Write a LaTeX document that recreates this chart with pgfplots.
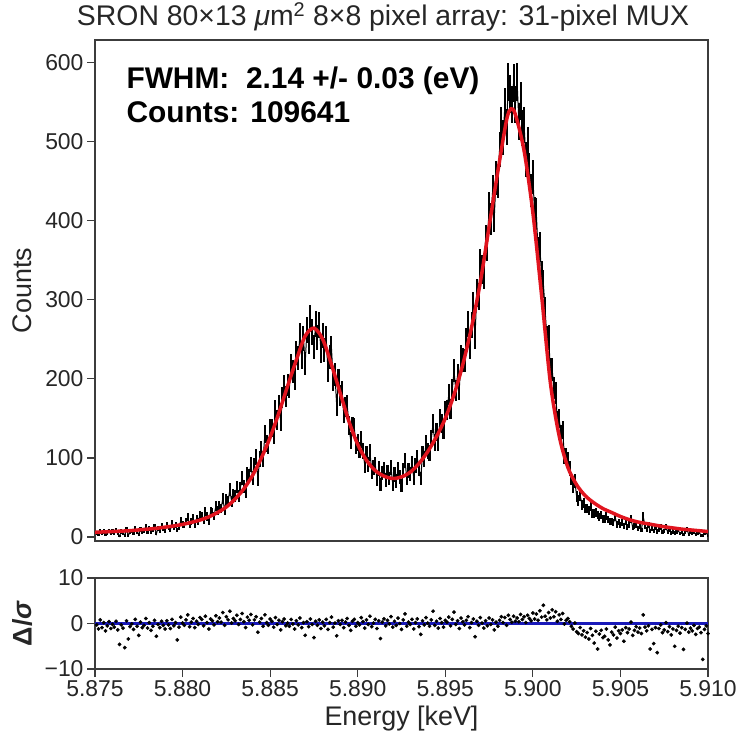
\documentclass[border=0pt]{standalone}
\usepackage{pgfplots}
\pgfplotsset{compat=1.18}
\usepackage{pgfplotstable}
\usepackage{fontspec}
\setmainfont{Liberation Sans}
\definecolor{fitred}{RGB}{225,20,30}
\definecolor{resblue}{RGB}{25,25,185}
\definecolor{axgray}{RGB}{60,60,60}

\pgfplotstableread{
x y e
5.8751 5 2.2
5.8752 3 1.7
5.8753 8 2.8
5.8754 4 2.0
5.8755 7 2.6
5.8756 3 1.7
5.8757 5 2.2
5.8758 8 2.8
5.8759 4 2.0
5.8760 7 2.6
5.8761 5 2.2
5.8762 9 3.0
5.8763 4 2.0
5.8764 1 1.0
5.8765 7 2.6
5.8766 5 2.2
5.8767 2 1.4
5.8768 10 3.2
5.8769 2 1.4
5.8770 6 2.4
5.8771 8 2.8
5.8772 5 2.2
5.8773 11 3.3
5.8774 7 2.6
5.8775 3 1.7
5.8776 10 3.2
5.8777 7 2.6
5.8778 8 2.8
5.8779 13 3.6
5.8780 7 2.6
5.8781 11 3.3
5.8782 6 2.4
5.8783 9 3.0
5.8784 13 3.6
5.8785 4 2.0
5.8786 11 3.3
5.8787 8 2.8
5.8788 14 3.7
5.8789 11 3.3
5.8790 8 2.8
5.8791 15 3.9
5.8792 12 3.5
5.8793 9 3.0
5.8794 17 4.1
5.8795 12 3.5
5.8796 15 3.9
5.8797 9 3.0
5.8798 12 3.5
5.8799 21 4.6
5.8800 16 4.0
5.8801 15 3.9
5.8802 20 4.5
5.8803 25 5.0
5.8804 15 3.9
5.8805 20 4.5
5.8806 24 4.9
5.8807 16 4.0
5.8808 23 4.8
5.8809 20 4.5
5.8810 28 5.3
5.8811 27 5.2
5.8812 21 4.6
5.8813 32 5.7
5.8814 26 5.1
5.8815 19 4.4
5.8816 32 5.7
5.8817 31 5.6
5.8818 27 5.2
5.8819 39 6.2
5.8820 33 5.7
5.8821 39 6.2
5.8822 36 6.0
5.8823 49 7.0
5.8824 34 5.8
5.8825 47 6.9
5.8826 45 6.7
5.8827 60 7.7
5.8828 45 6.7
5.8829 54 7.3
5.8830 52 7.2
5.8831 63 7.9
5.8832 52 7.2
5.8833 62 7.9
5.8834 75 8.7
5.8835 64 8.0
5.8836 57 7.5
5.8837 79 8.9
5.8838 77 8.8
5.8839 92 9.6
5.8840 75 8.7
5.8841 90 9.5
5.8842 101 10.0
5.8843 73 8.5
5.8844 99 9.9
5.8845 111 10.5
5.8846 99 9.9
5.8847 130 11.4
5.8848 118 10.9
5.8849 116 10.8
5.8850 137 11.7
5.8851 138 11.7
5.8852 129 11.4
5.8853 160 12.6
5.8854 148 12.2
5.8855 166 12.9
5.8856 146 12.1
5.8857 176 13.3
5.8858 191 13.8
5.8859 177 13.3
5.8860 192 13.9
5.8861 189 13.7
5.8862 217 14.7
5.8863 209 14.5
5.8864 200 14.1
5.8865 233 15.3
5.8866 226 15.0
5.8867 254 15.9
5.8868 228 15.1
5.8869 251 15.8
5.8870 219 14.8
5.8871 262 16.2
5.8872 247 15.7
5.8873 276 16.6
5.8874 259 16.1
5.8875 240 15.5
5.8876 269 16.4
5.8877 252 15.9
5.8878 268 16.4
5.8879 235 15.3
5.8880 255 16.0
5.8881 236 15.4
5.8882 251 15.8
5.8883 211 14.5
5.8884 227 15.1
5.8885 239 15.5
5.8886 199 14.1
5.8887 205 14.3
5.8888 166 12.9
5.8889 198 14.1
5.8890 179 13.4
5.8891 184 13.6
5.8892 156 12.5
5.8893 164 12.8
5.8894 167 12.9
5.8895 141 11.9
5.8896 122 11.0
5.8897 140 11.8
5.8898 139 11.8
5.8899 116 10.8
5.8900 119 10.9
5.8901 110 10.5
5.8902 123 11.1
5.8903 109 10.4
5.8904 91 9.5
5.8905 105 10.2
5.8906 92 9.6
5.8907 107 10.3
5.8908 83 9.1
5.8909 88 9.4
5.8910 92 9.6
5.8911 73 8.5
5.8912 87 9.3
5.8913 66 8.1
5.8914 81 9.0
5.8915 86 9.3
5.8916 72 8.5
5.8917 82 9.1
5.8918 74 8.6
5.8919 88 9.4
5.8920 67 8.2
5.8921 79 8.9
5.8922 71 8.4
5.8923 86 9.3
5.8924 76 8.7
5.8925 65 8.1
5.8926 84 9.2
5.8927 97 9.8
5.8928 74 8.6
5.8929 84 9.2
5.8930 80 8.9
5.8931 93 9.6
5.8932 75 8.7
5.8933 91 9.5
5.8934 100 10.0
5.8935 86 9.3
5.8936 74 8.6
5.8937 105 10.2
5.8938 99 9.9
5.8939 118 10.9
5.8940 109 10.4
5.8941 106 10.3
5.8942 124 11.1
5.8943 143 12.0
5.8944 119 10.9
5.8945 133 11.5
5.8946 120 11.0
5.8947 149 12.2
5.8948 143 12.0
5.8949 136 11.7
5.8950 159 12.6
5.8951 160 12.6
5.8952 180 13.4
5.8953 162 12.7
5.8954 186 13.6
5.8955 210 14.5
5.8956 185 13.6
5.8957 204 14.3
5.8958 187 13.7
5.8959 228 15.1
5.8960 224 15.0
5.8961 223 14.9
5.8962 248 15.7
5.8963 269 16.4
5.8964 241 15.5
5.8965 268 16.4
5.8966 293 17.1
5.8967 254 15.9
5.8968 308 17.5
5.8969 304 17.4
5.8970 345 18.6
5.8971 338 18.4
5.8972 331 18.2
5.8973 375 19.4
5.8974 368 19.2
5.8975 416 20.4
5.8976 402 20.0
5.8977 436 20.9
5.8978 405 20.1
5.8979 454 21.3
5.8980 449 21.2
5.8981 490 22.1
5.8982 521 22.8
5.8983 505 22.5
5.8984 544 23.3
5.8985 518 22.8
5.8986 575 24.0
5.8987 560 23.7
5.8988 547 23.4
5.8989 574 24.0
5.8990 546 23.4
5.8991 575 24.0
5.8992 525 22.9
5.8993 551 23.5
5.8994 517 22.7
5.8995 521 22.8
5.8996 477 21.8
5.8997 496 22.3
5.8998 464 21.5
5.8999 438 20.9
5.9000 455 21.3
5.9001 409 20.2
5.9002 408 20.2
5.9003 360 19.0
5.9004 366 19.1
5.9005 330 18.2
5.9006 320 17.9
5.9007 287 16.9
5.9008 251 15.8
5.9009 252 15.9
5.9010 212 14.6
5.9011 212 14.6
5.9012 188 13.7
5.9013 182 13.5
5.9014 147 12.1
5.9015 150 12.2
5.9016 130 11.4
5.9017 135 11.6
5.9018 103 10.1
5.9019 103 10.1
5.9020 98 9.9
5.9021 87 9.3
5.9022 74 8.6
5.9023 64 8.0
5.9024 71 8.4
5.9025 51 7.1
5.9026 46 6.8
5.9027 53 7.3
5.9028 41 6.4
5.9029 43 6.6
5.9030 36 6.0
5.9031 36 6.0
5.9032 33 5.7
5.9033 39 6.2
5.9034 30 5.5
5.9035 30 5.5
5.9036 31 5.6
5.9037 28 5.3
5.9038 25 5.0
5.9039 28 5.3
5.9040 23 4.8
5.9041 23 4.8
5.9042 27 5.2
5.9043 22 4.7
5.9044 20 4.5
5.9045 20 4.5
5.9046 18 4.2
5.9047 25 5.0
5.9048 16 4.0
5.9049 19 4.4
5.9050 15 3.9
5.9051 18 4.2
5.9052 14 3.7
5.9053 19 4.4
5.9054 13 3.6
5.9055 16 4.0
5.9056 23 4.8
5.9057 12 3.5
5.9058 14 3.7
5.9059 16 4.0
5.9060 11 3.3
5.9061 14 3.7
5.9062 9 3.0
5.9063 26 5.1
5.9064 14 3.7
5.9065 10 3.2
5.9066 15 3.9
5.9067 8 2.8
5.9068 11 3.3
5.9069 8 2.8
5.9070 12 3.5
5.9071 7 2.6
5.9072 10 3.2
5.9073 13 3.6
5.9074 6 2.4
5.9075 8 2.8
5.9076 13 3.6
5.9077 6 2.4
5.9078 10 3.2
5.9079 5 2.2
5.9080 7 2.6
5.9081 5 2.2
5.9082 6 2.4
5.9083 9 3.0
5.9084 4 2.0
5.9085 7 2.6
5.9086 3 1.7
5.9087 6 2.4
5.9088 10 3.2
5.9089 3 1.7
5.9090 6 2.4
5.9091 4 2.0
5.9092 7 2.6
5.9093 3 1.7
5.9094 5 2.2
5.9095 6 2.4
5.9096 2 1.4
5.9097 2 1.4
5.9098 4 2.0
5.9099 6 2.4
5.9100 1 1.0
}\datatable

\pgfplotstableread{
x f
5.8750 6
5.8755 6.5
5.8760 7
5.8765 7.5
5.8770 8
5.8775 9
5.8780 10
5.8785 11
5.8790 12.5
5.8795 14
5.8800 16
5.8805 18.5
5.8810 21.5
5.8815 25.5
5.8820 31
5.8825 38
5.8830 48
5.8835 61
5.8840 78
5.8845 100
5.8850 126
5.8855 157
5.8860 191
5.8865 224
5.8870 254
5.8875 264
5.8880 250
5.8885 218
5.8890 182
5.8895 146
5.8900 117
5.8905 97
5.8910 84
5.8915 77
5.8920 74
5.8925 76
5.8930 82
5.8935 93
5.8940 108
5.8945 127
5.8950 150
5.8955 180
5.8960 218
5.8965 265
5.8970 322
5.8975 392
5.8980 462
5.8985 527
5.89875 541
5.8990 534
5.8995 488
5.9000 410
5.9005 305
5.9010 195
5.9015 128
5.9020 88
5.9025 66
5.9030 52
5.9035 43
5.9040 36
5.9045 31
5.9050 26
5.9055 22
5.9060 19
5.9065 17
5.9070 15
5.9075 13
5.9080 11.5
5.9085 10
5.9090 9
5.9095 8
5.9100 7
}\fittable

\pgfplotstableread{
x r
5.8751 -0.3
5.8752 -1.2
5.8753 0.8
5.8754 -0.9
5.8755 0.2
5.8756 -1.6
5.8757 -0.5
5.8758 0.4
5.8759 -1.1
5.8760 -0.2
5.8761 -0.8
5.8762 0.5
5.8763 -1.4
5.8764 -4.6
5.8765 -0.3
5.8766 -1.0
5.8767 -5.3
5.8768 0.6
5.8769 -3.4
5.8770 -0.7
5.8771 -0.1
5.8772 -1.3
5.8773 0.9
5.8774 -0.6
5.8775 -2.6
5.8776 0.3
5.8777 -0.9
5.8778 -0.4
5.8779 1.1
5.8780 -1.0
5.8781 0.2
5.8782 -1.5
5.8783 -0.6
5.8784 0.7
5.8785 -2.8
5.8786 -0.2
5.8787 -0.9
5.8788 0.5
5.8789 -0.4
5.8790 -1.2
5.8791 0.6
5.8792 -0.3
5.8793 -1.1
5.8794 0.9
5.8795 -0.5
5.8796 0.2
5.8797 -3.6
5.8798 -0.8
5.8799 1.4
5.8800 0.1
5.8801 -0.4
5.8802 0.8
5.8803 1.9
5.8804 -0.7
5.8805 0.3
5.8806 1.1
5.8807 -0.9
5.8808 0.5
5.8809 -0.2
5.8810 1.3
5.8811 0.9
5.8812 -0.5
5.8813 1.6
5.8814 0.2
5.8815 -1.2
5.8816 1.0
5.8817 0.6
5.8818 -0.3
5.8819 1.7
5.8820 0.4
5.8821 1.2
5.8822 0.3
5.8823 2.4
5.8824 -0.4
5.8825 1.5
5.8826 0.8
5.8827 2.7
5.8828 0.1
5.8829 1.1
5.8830 0.6
5.8831 1.8
5.8832 -0.2
5.8833 0.9
5.8834 2.2
5.8835 0.4
5.8836 -0.9
5.8837 1.4
5.8838 0.7
5.8839 2.0
5.8840 -0.3
5.8841 0.8
5.8842 1.5
5.8843 -1.9
5.8844 0.3
5.8845 1.1
5.8846 -0.6
5.8847 1.9
5.8848 0.2
5.8849 -0.4
5.8850 1.0
5.8851 0.5
5.8852 -0.8
5.8853 1.3
5.8854 -0.2
5.8855 0.7
5.8856 -1.4
5.8857 0.4
5.8858 1.0
5.8859 -0.5
5.8860 0.1
5.8861 -0.6
5.8862 0.9
5.8863 -0.1
5.8864 -1.2
5.8865 0.6
5.8866 -0.3
5.8867 1.2
5.8868 -0.9
5.8869 0.2
5.8870 -2.6
5.8871 0.4
5.8872 -0.7
5.8873 1.0
5.8874 -0.2
5.8875 -3.1
5.8876 0.5
5.8877 -0.4
5.8878 0.8
5.8879 -1.1
5.8880 0.3
5.8881 -0.5
5.8882 0.9
5.8883 -1.3
5.8884 0.2
5.8885 1.4
5.8886 -0.8
5.8887 0.1
5.8888 -2.7
5.8889 0.6
5.8890 -0.2
5.8891 0.7
5.8892 -0.9
5.8893 0.3
5.8894 1.1
5.8895 -0.4
5.8896 -1.5
5.8897 0.5
5.8898 0.9
5.8899 -0.6
5.8900 0.2
5.8901 -0.3
5.8902 1.3
5.8903 0.4
5.8904 -1.0
5.8905 0.8
5.8906 -0.2
5.8907 1.6
5.8908 -0.7
5.8909 0.1
5.8910 0.9
5.8911 -1.1
5.8912 0.6
5.8913 -3.3
5.8914 0.3
5.8915 1.0
5.8916 -0.5
5.8917 0.7
5.8918 -0.1
5.8919 1.5
5.8920 -0.8
5.8921 0.5
5.8922 -0.4
5.8923 1.2
5.8924 0.0
5.8925 -1.3
5.8926 0.8
5.8927 2.1
5.8928 -0.6
5.8929 0.3
5.8930 -0.2
5.8931 0.9
5.8932 -1.2
5.8933 0.2
5.8934 1.0
5.8935 -0.7
5.8936 -2.4
5.8937 0.6
5.8938 -0.3
5.8939 1.3
5.8940 0.1
5.8941 -0.6
5.8942 0.8
5.8943 2.7
5.8944 -0.4
5.8945 0.5
5.8946 -1.0
5.8947 1.1
5.8948 0.2
5.8949 -0.8
5.8950 0.7
5.8951 0.3
5.8952 1.4
5.8953 -0.5
5.8954 0.9
5.8955 2.5
5.8956 -0.2
5.8957 0.6
5.8958 -1.1
5.8959 1.2
5.8960 0.4
5.8961 -0.3
5.8962 0.7
5.8963 1.5
5.8964 -0.9
5.8965 0.2
5.8966 1.0
5.8967 -2.9
5.8968 0.5
5.8969 -0.4
5.8970 1.3
5.8971 0.1
5.8972 -1.0
5.8973 0.6
5.8974 -0.5
5.8975 1.2
5.8976 -0.2
5.8977 0.8
5.8978 -1.4
5.8979 0.3
5.8980 -0.6
5.8981 0.7
5.8982 1.5
5.8983 0.2
5.8984 1.3
5.8985 -0.4
5.8986 1.8
5.8987 0.9
5.8988 0.3
5.8989 1.6
5.8990 0.5
5.8991 1.2
5.8992 0.4
5.8993 2.0
5.8994 0.9
5.8995 1.5
5.8996 0.2
5.8997 1.8
5.8998 1.1
5.8999 0.6
5.9000 2.3
5.9001 1.0
5.9002 2.1
5.9003 0.7
5.9004 2.8
5.9005 1.4
5.9006 4.0
5.9007 1.6
5.9008 0.8
5.9009 2.4
5.9010 1.2
5.9011 3.0
5.9012 1.5
5.9013 2.6
5.9014 0.5
5.9015 1.9
5.9016 0.9
5.9017 2.2
5.9018 -0.1
5.9019 0.7
5.9020 1.1
5.9021 0.4
5.9022 -0.6
5.9023 -1.2
5.9024 0.1
5.9025 -1.8
5.9026 -2.2
5.9027 -0.9
5.9028 -2.5
5.9029 -1.6
5.9030 -3.0
5.9031 -2.0
5.9032 -3.4
5.9033 -1.1
5.9034 -2.6
5.9035 -4.3
5.9036 -1.7
5.9037 -5.6
5.9038 -2.3
5.9039 -1.5
5.9040 -3.1
5.9041 -2.8
5.9042 -1.2
5.9043 -3.6
5.9044 -4.7
5.9045 -1.9
5.9046 -2.5
5.9047 -0.8
5.9048 -3.2
5.9049 -1.6
5.9050 -2.2
5.9051 -1.4
5.9052 -3.9
5.9053 -0.9
5.9054 -2.0
5.9055 -1.2
5.9056 0.3
5.9057 -2.6
5.9058 -1.5
5.9059 -0.7
5.9060 -1.9
5.9061 -1.0
5.9062 -2.2
5.9063 1.9
5.9064 -0.8
5.9065 -1.6
5.9066 -0.5
5.9067 -5.6
5.9068 -1.3
5.9069 -4.4
5.9070 -0.9
5.9071 -6.4
5.9072 -1.1
5.9073 -0.3
5.9074 -2.0
5.9075 -1.4
5.9076 0.2
5.9077 -1.8
5.9078 -0.7
5.9079 -2.5
5.9080 -1.2
5.9081 -5.0
5.9082 -1.5
5.9083 -0.6
5.9084 -2.1
5.9085 -0.9
5.9086 -5.7
5.9087 -1.3
5.9088 0.1
5.9089 -1.9
5.9090 -1.0
5.9091 -1.6
5.9092 -0.4
5.9093 -2.4
5.9094 -1.1
5.9095 -0.8
5.9096 -2.0
5.9097 -7.9
5.9098 -1.3
5.9099 -0.5
5.9100 -2.2
}\restable

\begin{document}
\begin{tikzpicture}[x=1bp,y=1bp]
\path[use as bounding box] (0bp,0bp) rectangle (736bp,-740bp);
\begin{axis}[
  at={(95bp,-541bp)}, anchor=south west,
  scale only axis, width=613bp, height=501bp,
  xmin=5.875, xmax=5.910, ymin=-5, ymax=628,
  axis line style={axgray, line width=1.6bp},
  xtick=\empty,
  ytick={0,100,200,300,400,500,600},
  ytick pos=left,
  tick align=outside, major tick length=8bp,
  tick style={axgray, line width=1.2bp},
  /pgf/number format/assume math mode=true,
  yticklabel style={font=\fontsize{23}{27}\selectfont, text=black!85},
  ylabel={Counts},
  ylabel style={font=\fontsize{27}{32}\selectfont, text=black!85, at={(axis description cs:-0.119,0.5)}, anchor=center},
  clip=true,
]
\addplot[black, line width=1bp, no marks,
  error bars/.cd, y dir=both, y explicit, error mark=none,
  error bar style={line width=2.1bp, black}]
  table[x=x, y=y, y error=e] {\datatable};
\addplot[fitred, line width=3.5bp, smooth, no marks] table[x=x, y=f] {\fittable};
\end{axis}

\begin{axis}[
  at={(95bp,-669bp)}, anchor=south west,
  scale only axis, width=613bp, height=91bp,
  xmin=5.875, xmax=5.910, ymin=-10, ymax=10,
  axis line style={axgray, line width=1.6bp},
  xtick={5.875,5.880,5.885,5.890,5.895,5.900,5.905,5.910},
  xticklabels={5.875,5.880,5.885,5.890,5.895,5.900,5.905,5.910},
  ytick={-10,0,10},
  yticklabels={−10,0,10},
  xtick pos=bottom, ytick pos=left,
  tick align=outside, major tick length=8bp,
  tick style={axgray, line width=1.2bp},
  /pgf/number format/assume math mode=true,
  xticklabel style={font=\fontsize{23}{27}\selectfont, text=black!85},
  yticklabel style={font=\fontsize{23}{27}\selectfont, text=black!85},
  xlabel={Energy [keV]},
  xlabel style={font=\fontsize{27}{32}\selectfont, text=black!85, at={(axis description cs:0.5,-0.54)}, anchor=center},
  ylabel={\bfseries Δ/\textit{σ}},
  ylabel style={font=\fontsize{27}{32}\selectfont, text=black!85, at={(axis description cs:-0.119,0.5)}, anchor=center},
  clip=true,
]
\addplot[resblue, line width=2.6bp, no marks] coordinates {(5.875,0) (5.910,0)};
\addplot[only marks, mark=*, mark size=1.7bp, black, mark options={fill=black}] table[x=x, y=r] {\restable};
\end{axis}

\node[font=\fontsize{28.5}{33}\selectfont, text=black!85] at (383bp,-17bp) {SRON 80×13 \textit{μ}m\textsuperscript{2} 8×8 pixel array: 31-pixel MUX};
\node[anchor=base west, font=\fontsize{30}{35}\selectfont\bfseries] at (123bp,-88bp) {FWHM:\ \ 2.14 +/- 0.03 (eV)};
\node[anchor=base west, font=\fontsize{30}{35}\selectfont\bfseries] at (123bp,-122bp) {Counts: 109641};
\end{tikzpicture}
\end{document}
